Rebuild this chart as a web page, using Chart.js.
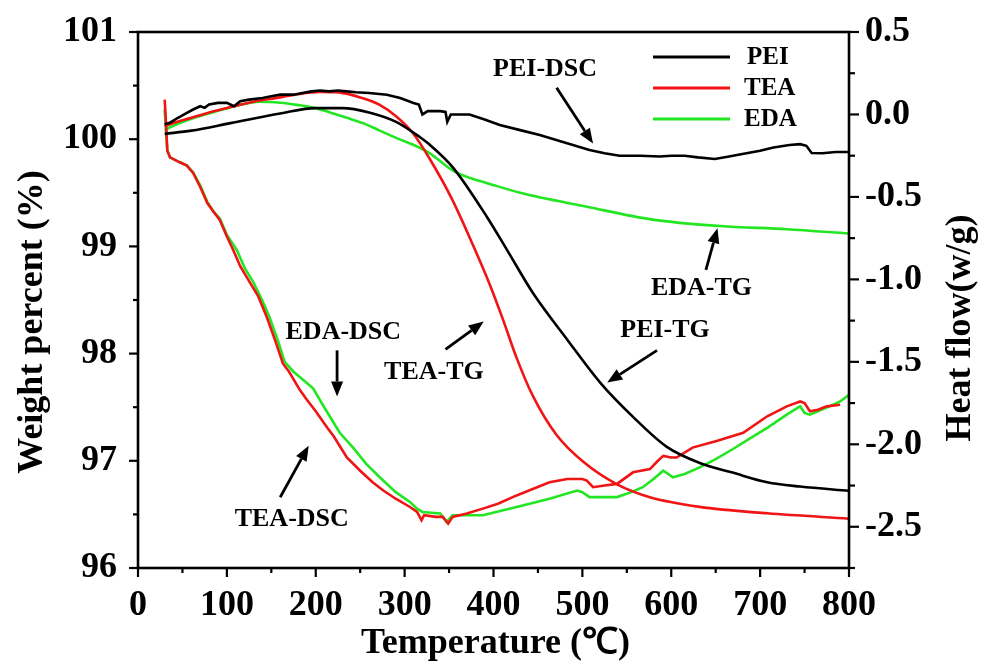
<!DOCTYPE html>
<html>
<head>
<meta charset="utf-8">
<script src="https://cdn.jsdelivr.net/npm/chart.js@4.4.0/dist/chart.umd.min.js"></script>
<style>
  html, body { margin: 0; padding: 0; background: #fff; }
  #wrap { width: 985px; height: 668px; }
</style>
</head>
<body>
<div id="wrap"><canvas id="myChart"></canvas></div>
<script>
// TG curves (left axis, weight %)
const peiTgT = [30, 60, 104, 160, 200, 230, 260, 291, 317, 328, 354, 393, 415, 444, 483, 520, 557, 595, 632, 669, 708, 745, 800];
const peiTgW = [100.05, 100.08, 100.15, 100.24, 100.29, 100.29, 100.25, 100.16, 100.02, 99.95, 99.74, 99.27, 98.97, 98.57, 98.13, 97.73, 97.41, 97.13, 96.98, 96.89, 96.8, 96.76, 96.72];

const teaTgT = [30, 36, 60, 80, 104, 130, 160, 180, 205, 231, 250, 272, 291, 309, 328, 354, 377, 396, 411, 426, 444, 471, 501, 539, 576, 632, 708, 800];
const teaTgW = [100.12, 100.14, 100.2, 100.25, 100.3, 100.35, 100.39, 100.42, 100.44, 100.43, 100.39, 100.32, 100.21, 100.06, 99.82, 99.43, 99.01, 98.64, 98.31, 97.96, 97.61, 97.24, 96.99, 96.78, 96.66, 96.57, 96.51, 96.46];

const edaTgT = [30, 36, 60, 84, 110, 137, 160, 179, 200, 216, 235, 253, 272, 291, 317, 328, 354, 373, 393, 430, 505, 579, 655, 730, 800];
const edaTgW = [100.08, 100.11, 100.19, 100.25, 100.31, 100.35, 100.34, 100.32, 100.29, 100.25, 100.2, 100.15, 100.08, 100.01, 99.92, 99.87, 99.71, 99.64, 99.59, 99.5, 99.37, 99.25, 99.19, 99.16, 99.12];

// DSC curves (right axis, heat flow w/g)
const peiDscT = [30, 36, 45, 55, 62, 70, 75, 80, 90, 100, 108, 115, 125, 140, 150, 160, 175, 185, 195, 205, 215, 225, 235, 245, 260, 280, 295, 310, 316, 320, 326, 340, 346, 348, 352, 373, 390, 407, 430, 452, 480, 508, 525, 542, 565, 587, 600, 615, 630, 649, 665, 680, 700, 715, 733, 745, 752, 758, 770, 785, 800];
const peiDscH = [-0.06, -0.05, -0.02, 0.01, 0.03, 0.05, 0.04, 0.06, 0.07, 0.07, 0.05, 0.08, 0.09, 0.1, 0.11, 0.12, 0.12, 0.13, 0.14, 0.145, 0.14, 0.145, 0.14, 0.135, 0.13, 0.12, 0.1, 0.07, 0.06, 0.0, 0.02, 0.02, 0.015, -0.045, 0.0, 0.0, -0.03, -0.064, -0.095, -0.125, -0.17, -0.216, -0.235, -0.25, -0.25, -0.255, -0.25, -0.25, -0.26, -0.27, -0.255, -0.24, -0.22, -0.2, -0.185, -0.18, -0.19, -0.234, -0.235, -0.228, -0.228];

const teaDscT = [30, 31, 33, 36, 47, 55, 62, 70, 78, 85, 92, 100, 107, 115, 126, 135, 145, 155, 163, 170, 182, 190, 200, 213, 220, 235, 250, 264, 276, 290, 306, 314, 319, 322, 335, 343, 349, 354, 370, 388, 405, 426, 440, 463, 483, 500, 505, 512, 525, 539, 557, 576, 585, 591, 600, 606, 624, 651, 681, 708, 730, 745, 750, 756, 765, 775, 790];
const teaDscH = [0.09, 0.0, -0.22, -0.26, -0.29, -0.31, -0.355, -0.44, -0.537, -0.59, -0.64, -0.74, -0.82, -0.92, -1.02, -1.1, -1.23, -1.38, -1.51, -1.56, -1.67, -1.73, -1.8, -1.9, -1.95, -2.08, -2.16, -2.23, -2.28, -2.33, -2.38, -2.41, -2.46, -2.43, -2.44, -2.44, -2.48, -2.44, -2.42, -2.39, -2.36, -2.31, -2.28, -2.23, -2.21, -2.21, -2.22, -2.26, -2.25, -2.24, -2.17, -2.15, -2.1, -2.07, -2.08, -2.08, -2.02, -1.98, -1.93, -1.83, -1.77, -1.74, -1.75, -1.8, -1.79, -1.77, -1.76];

const edaDscT = [30, 31, 33, 36, 47, 55, 62, 70, 78, 85, 92, 100, 111, 120, 130, 140, 148, 158, 165, 175, 186, 197, 210, 227, 242, 257, 272, 290, 306, 314, 320, 340, 347, 354, 388, 426, 463, 494, 500, 508, 525, 539, 555, 568, 580, 591, 602, 615, 632, 650, 669, 690, 708, 730, 745, 750, 756, 765, 778, 790, 800];
const edaDscH = [0.03, -0.05, -0.22, -0.26, -0.29, -0.31, -0.35, -0.43, -0.53, -0.59, -0.63, -0.73, -0.82, -0.93, -1.02, -1.13, -1.23, -1.38, -1.5, -1.56, -1.61, -1.66, -1.78, -1.93, -2.02, -2.12, -2.2, -2.29, -2.35, -2.39, -2.41, -2.42, -2.47, -2.43, -2.43, -2.38, -2.33, -2.28, -2.29, -2.32, -2.32, -2.32, -2.29, -2.26, -2.21, -2.16, -2.2, -2.18, -2.14, -2.09, -2.03, -1.96, -1.9, -1.82, -1.77, -1.81, -1.82, -1.8, -1.77, -1.74, -1.7];

// legend entries
const legendNames = ['PEI', 'TEA', 'EDA'];
const seriesColors = ['#000000', '#f01414', '#22e622'];

// text notes with arrows, in data units (temperature, weight %)
const noteLabels = ['PEI-DSC', 'EDA-TG', 'PEI-TG', 'TEA-TG', 'EDA-DSC', 'TEA-DSC'];
const noteT = [458, 634, 593, 333, 231, 173];
const noteW = [100.65, 98.61, 98.22, 97.83, 98.2, 96.45];
const arrowFromT = [471, 639, 584, 346, 224, 160];
const arrowFromW = [100.48, 98.78, 98.03, 98.04, 98.03, 96.66];
const arrowToT = [512, 652, 528, 389, 224, 192];
const arrowToW = [99.96, 99.17, 97.73, 98.3, 97.6, 97.14];

const FAMILY = '"Liberation Serif", "Times New Roman", serif';
const pts = (xs, ys) => xs.map((x, i) => ({ x: x, y: ys[i] }));
const near = (v, step) => Math.abs(v / step - Math.round(v / step)) < 1e-6;

function line(label, xs, ys, color, axis, smooth) {
  return {
    label: label,
    data: pts(xs, ys),
    yAxisID: axis,
    borderColor: color,
    backgroundColor: color,
    borderWidth: 2.6,
    pointRadius: 0,
    fill: false,
    cubicInterpolationMode: smooth ? 'monotone' : 'default',
    tension: smooth ? 0.4 : 0
  };
}

const decor = {
  id: 'decor',
  afterDraw(chart) {
    const { ctx, chartArea: a, scales } = chart;
    ctx.save();
    ctx.strokeStyle = '#000';
    ctx.fillStyle = '#000';
    ctx.lineWidth = 2.6;
    ctx.strokeRect(a.left, a.top, a.right - a.left, a.bottom - a.top);

    // tick marks, major longer than minor
    ctx.lineWidth = 2.2;
    scales.x.ticks.forEach(t => {
      const p = scales.x.getPixelForValue(t.value);
      const len = near(t.value, 100) ? 9 : 5;
      ctx.beginPath(); ctx.moveTo(p, a.bottom); ctx.lineTo(p, a.bottom + len); ctx.stroke();
    });
    scales.yW.ticks.forEach(t => {
      const p = scales.yW.getPixelForValue(t.value);
      const len = near(t.value, 1) ? 9 : 5;
      ctx.beginPath(); ctx.moveTo(a.left, p); ctx.lineTo(a.left - len, p); ctx.stroke();
    });
    scales.yH.ticks.forEach(t => {
      const p = scales.yH.getPixelForValue(t.value);
      const len = near(t.value, 0.5) ? 10 : 6;
      ctx.beginPath(); ctx.moveTo(a.right, p); ctx.lineTo(a.right + len, p); ctx.stroke();
    });

    // axis titles
    ctx.textAlign = 'center';
    ctx.textBaseline = 'middle';
    ctx.font = 'bold 36px ' + FAMILY;
    ctx.fillText('Temperature (\u2103)', (a.left + a.right) / 2 + 2, a.bottom + 76);
    const midY = (a.top + a.bottom) / 2;
    ctx.save();
    ctx.translate(33, midY + 22);
    ctx.rotate(-Math.PI / 2);
    ctx.fillText('Weight percent (%)', 0, 0);
    ctx.restore();
    ctx.save();
    ctx.translate(a.right + 112, midY + 28);
    ctx.rotate(-Math.PI / 2);
    ctx.fillText('Heat flow(w/g)', 0, 0);
    ctx.restore();

    // legend
    ctx.font = 'bold 25px ' + FAMILY;
    ctx.textAlign = 'left';
    legendNames.forEach((n, i) => {
      const y = a.top + 25 + i * 31;
      ctx.strokeStyle = seriesColors[i];
      ctx.lineWidth = 2.8;
      ctx.beginPath(); ctx.moveTo(a.right - 196, y); ctx.lineTo(a.right - 119, y); ctx.stroke();
      ctx.fillStyle = '#000';
      ctx.fillText(n, a.right - 105 + (i === 0 ? 3 : 0), y + 1);
    });

    // notes and arrows
    const xs = scales.x, ys = scales.yW;
    ctx.font = 'bold 26px ' + FAMILY;
    ctx.textAlign = 'center';
    ctx.strokeStyle = '#000';
    ctx.fillStyle = '#000';
    noteLabels.forEach((txt, i) => {
      ctx.fillText(txt, xs.getPixelForValue(noteT[i]), ys.getPixelForValue(noteW[i]));
      const x1 = xs.getPixelForValue(arrowFromT[i]), y1 = ys.getPixelForValue(arrowFromW[i]);
      const x2 = xs.getPixelForValue(arrowToT[i]), y2 = ys.getPixelForValue(arrowToW[i]);
      const ang = Math.atan2(y2 - y1, x2 - x1);
      const hl = 15, hw = 6;
      const bx = x2 - hl * Math.cos(ang), by = y2 - hl * Math.sin(ang);
      ctx.lineWidth = 2.8;
      ctx.beginPath(); ctx.moveTo(x1, y1); ctx.lineTo(bx, by); ctx.stroke();
      ctx.beginPath();
      ctx.moveTo(x2, y2);
      ctx.lineTo(bx + hw * Math.sin(ang), by - hw * Math.cos(ang));
      ctx.lineTo(bx - hw * Math.sin(ang), by + hw * Math.cos(ang));
      ctx.closePath();
      ctx.fill();
    });
    ctx.restore();
  }
};

const tickFont = { family: FAMILY, size: 36, weight: 'bold' };

const ctx = document.getElementById('myChart');
const myChart = new Chart(ctx, {
  type: 'line',
  data: {
    datasets: [
      line('PEI-TG', peiTgT, peiTgW, seriesColors[0], 'yW', true),
      line('PEI-DSC', peiDscT, peiDscH, seriesColors[0], 'yH', false),
      line('TEA-TG', teaTgT, teaTgW, seriesColors[1], 'yW', true),
      line('TEA-DSC', teaDscT, teaDscH, seriesColors[1], 'yH', false),
      line('EDA-TG', edaTgT, edaTgW, seriesColors[2], 'yW', true),
      line('EDA-DSC', edaDscT, edaDscH, seriesColors[2], 'yH', false)
    ]
  },
  options: {
    responsive: true,
    maintainAspectRatio: false,
    animation: false,
    layout: { padding: { top: 32, left: 0, right: 0, bottom: 0 } },
    plugins: {
      legend: { display: false },
      tooltip: { enabled: false }
    },
    scales: {
      x: {
        type: 'linear',
        min: 0,
        max: 800,
        border: { display: false },
        grid: { display: false, drawTicks: false },
        ticks: {
          stepSize: 50,
          autoSkip: false,
          maxRotation: 0,
          padding: 16,
          color: '#000',
          font: tickFont,
          callback: v => (near(v, 100) ? String(v) : '')
        },
        afterFit: s => { s.height = 100; s.paddingLeft = 0; s.paddingRight = 0; }
      },
      yW: {
        type: 'linear',
        position: 'left',
        min: 96,
        max: 101,
        border: { display: false },
        grid: { display: false, drawTicks: false },
        ticks: {
          stepSize: 0.5,
          autoSkip: false,
          padding: 21,
          color: '#000',
          font: tickFont,
          callback: v => (near(v, 1) ? String(Math.round(v)) : '')
        },
        afterFit: s => { s.width = 138; s.paddingTop = 0; s.paddingBottom = 0; }
      },
      yH: {
        type: 'linear',
        position: 'right',
        min: -2.75,
        max: 0.5,
        border: { display: false },
        grid: { display: false, drawTicks: false },
        ticks: {
          stepSize: 0.25,
          autoSkip: false,
          padding: 16,
          color: '#000',
          font: tickFont,
          callback: v => (near(v, 0.5) ? v.toFixed(1) : '')
        },
        afterFit: s => { s.width = 136; s.paddingTop = 0; s.paddingBottom = 0; }
      }
    }
  },
  plugins: [decor]
});
</script>
</body>
</html>
